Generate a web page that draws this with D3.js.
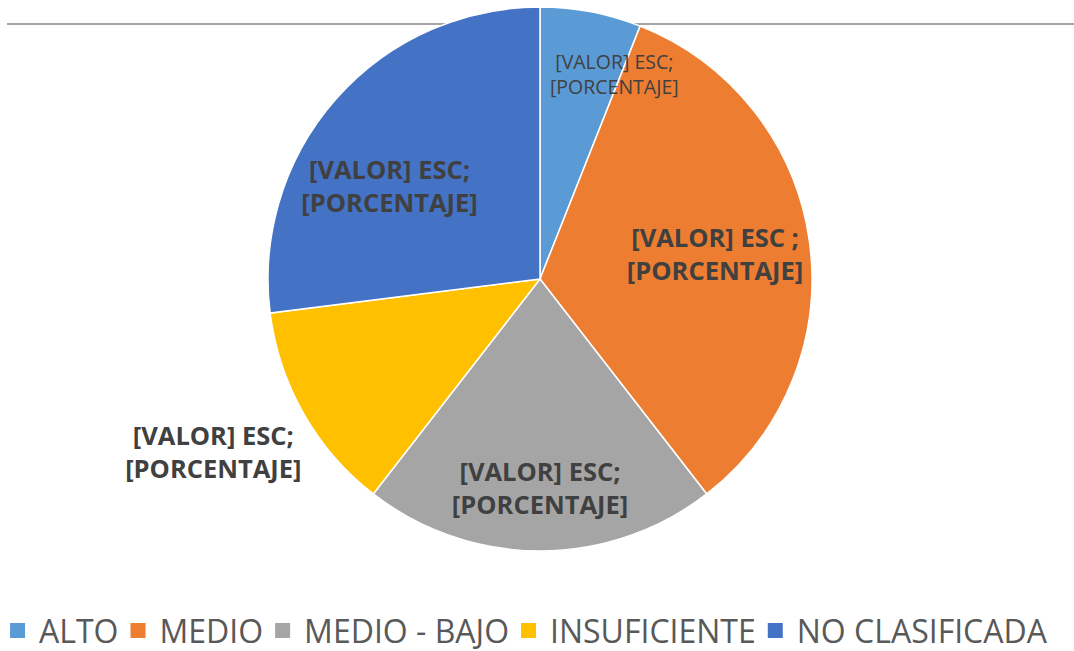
<!DOCTYPE html>
<html>
<head>
<meta charset="utf-8">
<script src="https://d3js.org/d3.v7.min.js"></script>
<style>
  body { margin: 0; background: #fff; }
  svg { display: block; font-family: "Open Sans", sans-serif; }
</style>
</head>
<body>
<div id="chart"></div>
<script>
// Data (share of schools per category)
const categories = ["ALTO", "MEDIO", "MEDIO - BAJO", "INSUFICIENTE", "NO CLASIFICADA"];
const values = [12, 67, 42, 25, 54];
const labelLines = ["[VALOR] ESC;", "[PORCENTAJE]"];
const labelLinesMedio = ["[VALOR] ESC ;", "[PORCENTAJE]"];

const colors = ["#5B9BD5", "#ED7D31", "#A5A5A5", "#FFC000", "#4472C4"];

// label placement per slice: radius factor and angle shift (radians)
const labelRadius = [0.8, 0.65, 0.77, 1.36, 0.65];
const labelShift = [0.16, 0, 0, 0.03, -0.17];
const labelSize = [19.5, 25.5, 25.5, 25.5, 25.5];
const labelWeight = ["normal", "bold", "bold", "bold", "bold"];

const width = 1074, height = 651;
const cx = 540, cy = 279, radius = 272;

const svg = d3.select("#chart").append("svg")
    .attr("width", width)
    .attr("height", height);

// top rule behind the pie
svg.append("line")
    .attr("x1", 7).attr("x2", width)
    .attr("y1", 24).attr("y2", 24)
    .style("stroke", "#a6a6a6")
    .style("stroke-width", 2);

const pie = d3.pie().sort(null).value(d => d.value);
const data = categories.map((c, i) => ({ name: c, value: values[i], i: i }));
const arcs = pie(data);

const arc = d3.arc().innerRadius(0).outerRadius(radius);

const g = svg.append("g").attr("transform", `translate(${cx},${cy})`);

g.selectAll("path.slice")
    .data(arcs)
    .enter()
    .append("path")
    .attr("class", "slice")
    .attr("d", arc)
    .style("fill", d => colors[d.data.i])
    .style("stroke", "#fff")
    .style("stroke-width", 1.5);

// labels
const lbl = g.selectAll("text.lbl")
    .data(arcs)
    .enter()
    .append("text")
    .attr("class", "lbl")
    .attr("text-anchor", "middle")
    .style("fill", "#404040")
    .style("font-size", d => labelSize[d.data.i] + "px")
    .style("font-weight", d => labelWeight[d.data.i])
    .attr("transform", d => {
        const a = (d.startAngle + d.endAngle) / 2 + labelShift[d.data.i];
        const r = radius * labelRadius[d.data.i];
        return `translate(${r * Math.sin(a)},${-r * Math.cos(a)})`;
    });

lbl.each(function (d) {
    const t = d3.select(this);
    const lines = d.data.i === 1 ? labelLinesMedio : labelLines;
    const lh = d.data.i === 0 ? 25.5 : 33;
    lines.forEach((s, k) => {
        t.append("tspan")
            .attr("x", 0)
            .attr("y", (k - 0.5) * lh + labelSize[d.data.i] * 0.36)
            .text(s);
    });
});

// legend
const legend = svg.append("g").attr("class", "legend");
const legendItems = legend.selectAll("g.item")
    .data(categories)
    .enter()
    .append("g")
    .attr("class", "item");

legendItems.append("rect")
    .attr("width", 15)
    .attr("height", 15)
    .attr("y", 623)
    .style("fill", (d, i) => colors[i]);

legendItems.append("text")
    .attr("x", 29)
    .attr("y", 643)
    .style("font-size", "32px")
    .style("fill", "#595959")
    .text(d => d);

// lay out items side by side, centered
let x = 0;
const offsets = [];
legendItems.each(function () {
    const w = 29 + d3.select(this).select("text").node().getComputedTextLength();
    offsets.push(x);
    x += w + 12;
});
const total = x - 12;
const start = 528.5 - total / 2;
legendItems.attr("transform", (d, i) => `translate(${start + offsets[i]},0)`);
</script>
</body>
</html>
